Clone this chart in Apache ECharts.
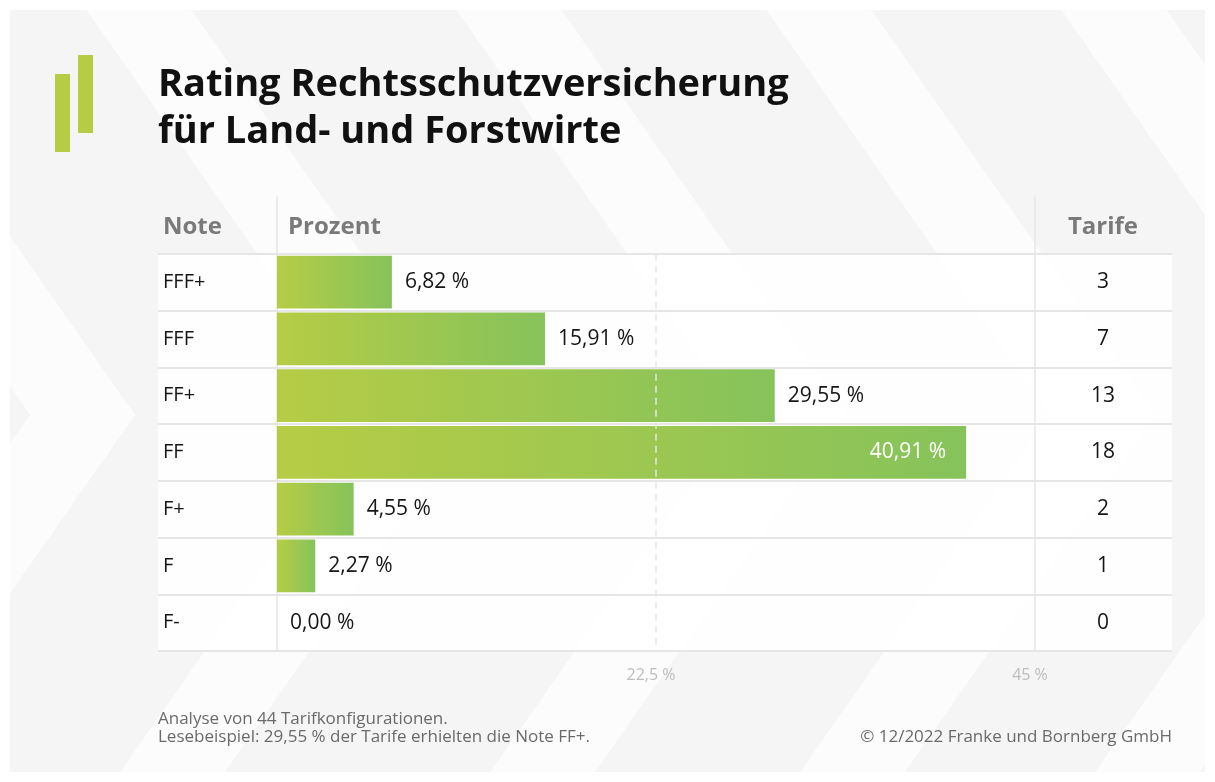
<!DOCTYPE html>
<html><head><meta charset="utf-8">
<script src="https://cdn.jsdelivr.net/npm/echarts@6/dist/echarts.min.js"></script>
<style>html,body{margin:0;padding:0;background:#fff}#c{width:1215px;height:782px}</style>
</head><body><div id="c"></div>
<script>
// ---- data ----
const titleLines = ['Rating Rechtsschutzversicherung', 'für Land- und Forstwirte'];
const headers = ['Note', 'Prozent', 'Tarife'];
const notes = ['FFF+', 'FFF', 'FF+', 'FF', 'F+', 'F', 'F-'];
const percent = [6.82, 15.91, 29.55, 40.91, 4.55, 2.27, 0.00];
const tarife = [3, 7, 13, 18, 2, 1, 0];
const axisMax = 45;
const axisStep = 22.5;
const footnotes = ['Analyse von 44 Tarifkonfigurationen.', 'Lesebeispiel: 29,55 % der Tarife erhielten die Note FF+.'];
const copyright = '© 12/2022 Franke und Bornberg GmbH';

// ---- helpers ----
const FONT = 'Open Sans';
const fmtPct = v => v.toFixed(2).replace('.', ',') + ' %';
const fmtTick = v => String(v).replace('.', ',') + ' %';

const GRID_TOP = 197, ROW = 56.75, NROWS = notes.length + 1;
const TABLE_H = ROW * NROWS;

const rowLineColor = '#e6e6e6';
const rowFill = 'rgba(255,255,255,0.84)';
const headLineColors = ['rgba(0,0,0,0)'].concat(new Array(NROWS).fill(rowLineColor));
const headAreaColors = ['rgba(0,0,0,0)'].concat(new Array(NROWS - 1).fill(rowFill));

const rich = {
  h: { fontFamily: FONT, fontSize: 24, fontWeight: 'bold', color: '#7a7a7a', padding: [4, 0, 0, 0] },
  n: { fontFamily: FONT, fontSize: 20, color: '#161616' },
  t: { fontFamily: FONT, fontSize: 21, color: '#161616' }
};
const noteFmt = (v, i) => (i === 0 ? '{h|' + v + '}' : '{n|' + v + '}');
const tarifFmt = (v, i) => (i === 0 ? '{h|' + v + '}' : '{t|' + v + '}');

// background chevrons (decoration)
const bg = [];
bg.push({ type: 'rect', z: -30, shape: { x: 10, y: 10, width: 1195, height: 762 }, style: { fill: '#f5f5f5' } });
const apexY = 415, s = 0.7, bw = 105;
[30, 370, 740, 1050, 1345].forEach(a => {
  bg.push({ type: 'polygon', z: -29, shape: { points: [
    [a - s * (apexY - 10), 10], [a, apexY], [a - s * (772 - apexY), 772],
    [a + bw - s * (772 - apexY), 772], [a + bw, apexY], [a + bw - s * (apexY - 10), 10]
  ] }, style: { fill: '#fcfcfc' } });
});
bg.push({ type: 'rect', z: -28, shape: { x: 0, y: 0, width: 1215, height: 10 }, style: { fill: '#fff' } });
bg.push({ type: 'rect', z: -28, shape: { x: 0, y: 772, width: 1215, height: 10 }, style: { fill: '#fff' } });
bg.push({ type: 'rect', z: -28, shape: { x: 0, y: 0, width: 10, height: 782 }, style: { fill: '#fff' } });
bg.push({ type: 'rect', z: -28, shape: { x: 1205, y: 0, width: 10, height: 782 }, style: { fill: '#fff' } });
// logo
bg.push({ type: 'rect', z: 10, shape: { x: 55, y: 74, width: 15, height: 78 }, style: { fill: '#b5cc44' } });
bg.push({ type: 'rect', z: 10, shape: { x: 78, y: 55, width: 15, height: 78 }, style: { fill: '#b5cc44' } });

const barData = percent.map(v => ({
  value: v,
  label: v > 35
    ? { position: 'insideRight', distance: 20, color: '#ffffff' }
    : { position: 'right', distance: 13, color: '#161616' }
}));

const chart = echarts.init(document.getElementById('c'), null, { renderer: 'canvas' });
chart.setOption({
  animation: false,
  backgroundColor: '#ffffff',
  textStyle: { fontFamily: FONT },
  graphic: { elements: bg },
  title: [
    { text: titleLines.join('\n'), left: 158, top: 62, padding: 0,
      textStyle: { fontFamily: FONT, fontSize: 38, fontWeight: 'bold', color: '#111', lineHeight: 47 } },
    { text: headers[1], left: 288, top: 215, padding: 0,
      textStyle: { fontFamily: FONT, fontSize: 24, fontWeight: 'bold', color: '#7a7a7a', lineHeight: 24 } },
    { text: footnotes.join('\n'), left: 158, top: 710, padding: 0,
      textStyle: { fontFamily: FONT, fontSize: 17, fontWeight: 'normal', color: '#6a6a6a', lineHeight: 18 } },
    { text: copyright, right: 43, top: 728, padding: 0,
      textStyle: { fontFamily: FONT, fontSize: 17, fontWeight: 'normal', color: '#6a6a6a', lineHeight: 18 } }
  ],
  grid: [
    { left: 158, top: GRID_TOP, width: 119, height: TABLE_H, containLabel: false },
    { left: 277, top: GRID_TOP + ROW, width: 758, height: TABLE_H - ROW, containLabel: false },
    { left: 1035, top: GRID_TOP, width: 137, height: TABLE_H, containLabel: false }
  ],
  xAxis: [
    { gridIndex: 0, type: 'value', show: false },
    { gridIndex: 1, type: 'value', min: 0, max: axisMax, interval: axisStep,
      axisLine: { show: false }, axisTick: { show: false },
      axisLabel: { formatter: v => (v === 0 ? '' : fmtTick(v)), color: '#bdbdbd', fontSize: 16, margin: 16,
        fontFamily: FONT, padding: [0, 10, 0, 0] },
      splitLine: { show: false } },
    { gridIndex: 2, type: 'value', show: false }
  ],
  yAxis: [
    { gridIndex: 0, type: 'category', inverse: true, position: 'right', data: [headers[0]].concat(notes),
      axisLine: { show: true, onZero: false, lineStyle: { color: rowLineColor, width: 1.5 } }, axisTick: { show: false },
      axisLabel: { inside: true, align: 'left', margin: 114, formatter: noteFmt, rich: rich },
      splitLine: { show: true, lineStyle: { color: headLineColors, width: 2 } },
      splitArea: { show: true, areaStyle: { color: headAreaColors } } },
    { gridIndex: 1, type: 'category', inverse: true, data: notes,
      axisLine: { show: false }, axisTick: { show: false }, axisLabel: { show: false },
      splitLine: { show: true, lineStyle: { color: rowLineColor, width: 2 } },
      splitArea: { show: true, areaStyle: { color: [rowFill] } } },
    { gridIndex: 2, type: 'category', inverse: true, position: 'left', data: [headers[2]].concat(tarife),
      axisLine: { show: true, onZero: false, lineStyle: { color: rowLineColor, width: 1.5 } }, axisTick: { show: false },
      axisLabel: { inside: true, align: 'center', margin: 68, formatter: tarifFmt, rich: rich },
      splitLine: { show: true, lineStyle: { color: headLineColors, width: 2 } },
      splitArea: { show: true, areaStyle: { color: headAreaColors } } }
  ],
  series: [{
    type: 'bar', xAxisIndex: 1, yAxisIndex: 1, data: barData, barCategoryGap: '7%', z: 2,
    itemStyle: { color: { type: 'linear', x: 0, y: 0, x2: 1, y2: 0,
      colorStops: [{ offset: 0, color: '#b6cc45' }, { offset: 1, color: '#86c35b' }] } },
    label: { show: true, fontFamily: FONT, fontSize: 21, formatter: p => fmtPct(p.value) },
    markLine: {
      silent: true, symbol: 'none', label: { show: false },
      lineStyle: { color: '#e6e6e6', type: [7, 5], width: 1.5 },
      data: [{ xAxis: axisStep }]
    }
  }]
});
</script></body></html>
